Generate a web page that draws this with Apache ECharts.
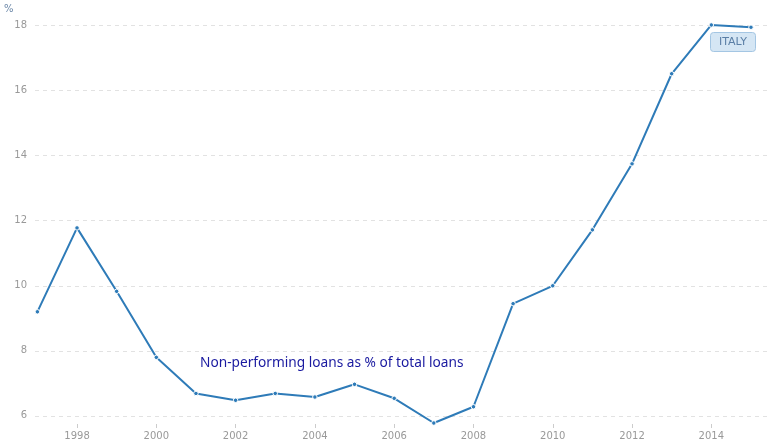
<!DOCTYPE html>
<html><head><meta charset="utf-8">
<script src="https://cdn.jsdelivr.net/npm/echarts@6/dist/echarts.min.js"></script>
<style>html,body{margin:0;padding:0;background:#fff}#c{width:774px;height:447px}</style>
</head><body><div id="c"></div>
<script>
var years = [1997,1998,1999,2000,2001,2002,2003,2004,2005,2006,2007,2008,2009,2010,2011,2012,2013,2014,2015];
var values = [9.2,11.78,9.83,7.8,6.69,6.48,6.69,6.58,6.97,6.54,5.78,6.28,9.45,10.0,11.72,13.75,16.52,18.02,17.95];
var xTicks = [1998,2000,2002,2004,2006,2008,2010,2012,2014];
var yTicks = [6,8,10,12,14,16,18];
var seriesName = 'ITALY';
var annotation = 'Non-performing loans as % of total loans';
var unit = '%';

var chart = echarts.init(document.getElementById('c'), null, {renderer:'canvas'});
chart.setOption({
  animation:false,
  backgroundColor:'#fff',
  grid:{left:35,right:4,top:24,bottom:23,containLabel:false},
  xAxis:{type:'value',min:1996.94,max:2015.48,
    axisLine:{show:false},
    axisTick:{show:true,customValues:xTicks,length:4,lineStyle:{color:'#ccc'}},
    axisLabel:{customValues:xTicks,color:'#999',fontSize:10,fontFamily:'DejaVu Sans',margin:7,formatter:function(v){return String(v);}},
    splitLine:{show:false}},
  yAxis:{type:'value',min:5.75,max:18.05,
    axisLine:{show:false},
    axisTick:{show:false,customValues:yTicks},
    axisLabel:{customValues:yTicks,color:'#999',fontSize:10,fontFamily:'DejaVu Sans',margin:8},
    splitLine:{show:true,lineStyle:{color:'#e2e2e2',type:[4,4],width:1}}},
  series:[{type:'line',name:seriesName,data:years.map(function(y,i){return [y,values[i]];}),
    symbol:'circle',symbolSize:4.5,showSymbol:true,
    itemStyle:{color:'#2e7bb8',borderColor:'#ffffff',borderWidth:1},
    lineStyle:{color:'#2e7bb8',width:2},clip:false,z:3}],
  graphic:[
    {type:'text',left:4,top:4,style:{text:unit,fill:'#6b87a8',font:'10px DejaVu Sans'}},
    {type:'text',left:200,top:356,style:{text:annotation,fill:'#1a1aa0',font:'13.7px "Noto Sans"'}},
    {type:'group',left:710,top:32,children:[
      {type:'rect',shape:{x:0,y:0,width:45,height:19,r:3},style:{fill:'#d5e6f4',stroke:'#a4c6e3',lineWidth:1}},
      {type:'text',x:22.5,y:10,style:{text:seriesName,fill:'#5b7fa6',font:'11px DejaVu Sans',align:'center',verticalAlign:'middle'}}
    ]}
  ]
});
</script></body></html>
